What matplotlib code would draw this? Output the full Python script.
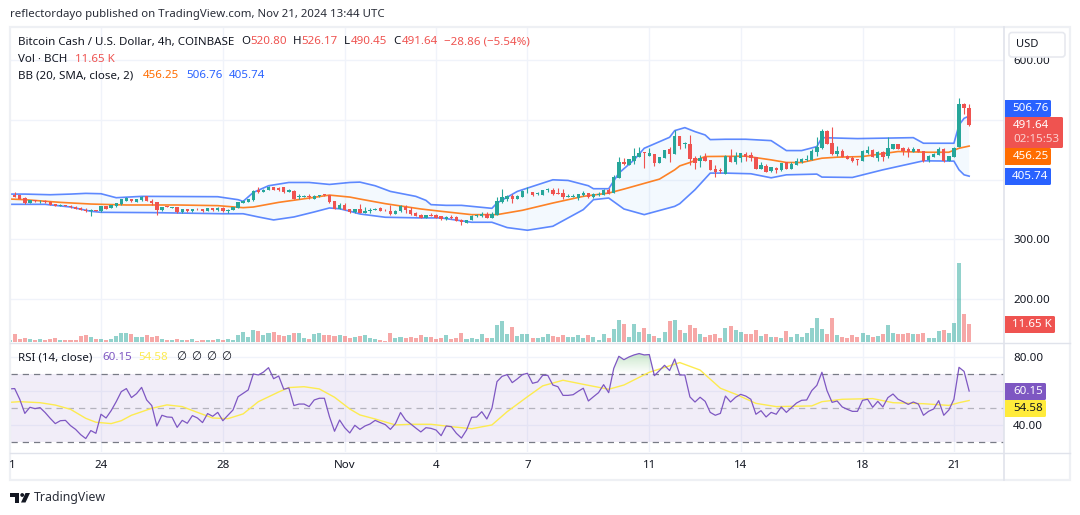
import numpy as np
import matplotlib
matplotlib.use('Agg')
import matplotlib.pyplot as plt
from matplotlib.patches import FancyBboxPatch, Rectangle, Circle, Polygon
from matplotlib.path import Path

# BCH/USD 4h candles
opens = [368, 374.1, 374, 369.7, 360.2, 365.7, 363.5, 364.6, 363, 358.5,
         355.7, 357.4, 356.3, 354.6, 352.9, 349.6, 346.8, 349, 346.8, 355.2,
         352.4, 355.2, 358.5, 364.1, 367.4, 362.4, 365.2, 371.9, 364.1, 362.4,
         348.5, 355.2, 352.5, 353.5, 345.1, 350.2, 346.8, 351.3, 350.2, 347.4,
         352.4, 348.5, 352.9, 346.8, 349.6, 352.4, 360.7, 362.4, 365.2, 381.9,
         379.1, 382.5, 388, 386.4, 386.9, 379.1, 381.3, 370.8, 370.8, 372.4,
         368, 371.9, 375.2, 374, 363.5, 350.7, 358, 350.7, 345.1, 350.7,
         344.6, 346.8, 349.6, 352.9, 349.6, 347.9, 342.9, 346.8, 354.6, 349.6,
         344.6, 341.2, 335.6, 340.7, 341.2, 338.4, 333.4, 336.8, 337.9, 332.9,
         327.3, 331.8, 338.4, 338.4, 342.9, 336.2, 340.7, 361.8, 368, 373,
         368, 371.3, 378.5, 379.1, 375.2, 374, 381.9, 382.4, 377.4, 378,
         371.3, 370.8, 368.5, 374.6, 377.4, 370.2, 373.5, 374.6, 383, 378,
         403, 429.8, 425.3, 432, 438.1, 445.4, 440.4, 442.6, 428.1, 437,
         451, 443.7, 473.2, 459.3, 459.8, 435.9, 430.9, 438.7, 433.1, 418.1,
         415.9, 409.7, 440.4, 428.7, 435.9, 443.2, 440.9, 438.1, 418.1, 423.1,
         413.6, 420.3, 415.9, 429.2, 418.6, 425.3, 429.8, 433.7, 433.1, 447,
         453.7, 481.6, 461.5, 443.2, 448.7, 440.4, 436.5, 434.2, 432, 444.3,
         450.4, 437, 446.5, 439.8, 451, 459.8, 453.7, 451, 446.5, 451,
         448.2, 432.6, 438.1, 441, 452, 432, 438.7, 454.3, 527.3, 520.8]
highs = [372.5, 378.6, 374.5, 370.2, 366.2, 366, 365.7, 365, 363.4, 359,
         358.4, 357.8, 356.6, 355, 353.2, 352.4, 350, 349.4, 355.6, 355.6,
         357.2, 361, 367.8, 370, 367.8, 367.2, 371.8, 373, 367.4, 363,
         354.4, 355.6, 354, 354, 350.6, 350.6, 351, 351.8, 350.6, 352.8,
         352.8, 353.2, 353.2, 350, 354.4, 362.2, 365, 367.8, 382, 388,
         383.4, 389, 388.4, 386.8, 387.2, 383.4, 382, 376.3, 374, 375.2,
         373.4, 375, 376.5, 374.4, 364, 360, 360, 351, 351, 359.6,
         354, 352.4, 351.8, 353.2, 350, 356.8, 348.2, 358, 357.4, 354,
         345, 341.6, 341, 343.5, 341.6, 338.8, 338.2, 340, 338.2, 333.2,
         332.6, 339.8, 341.6, 346.2, 346.2, 346.2, 370.8, 384.7, 374.6, 375.2,
         373.4, 383, 387.5, 379.5, 379.1, 382.8, 386.4, 385.8, 385.2, 384.7,
         376.3, 375.2, 376.2, 381.3, 377.8, 377.4, 379.6, 383.4, 385.8, 408,
         438.7, 436.5, 435.2, 453.2, 455.4, 447, 452.6, 443, 438.5, 449.7,
         454.3, 483.3, 473.6, 463.8, 475.5, 440.4, 441.5, 444.3, 433.5, 424.2,
         419.2, 440.8, 451, 447, 444.7, 447, 447, 438.5, 429.2, 426.5,
         421.8, 420.7, 428, 429.6, 430.3, 437, 436.5, 442, 451, 471.6,
         485.5, 483.3, 488.3, 456.5, 452, 440.8, 439.8, 434.6, 449, 456.5,
         451, 447.4, 448, 471.6, 459.7, 460.2, 455.4, 455.4, 455.4, 452,
         448.6, 440.8, 444, 454.3, 452.4, 440.2, 455.4, 536.2, 528, 526.17]
lows = [367.4, 370, 367.6, 359.8, 360, 363, 361, 361.4, 357, 355.3,
        355.3, 355.3, 353.1, 350.9, 349.2, 345.7, 338.4, 347, 346.4, 350.9,
        352, 354.8, 358.1, 363.7, 363.1, 362, 364.8, 363.7, 357.4, 340.1,
        348.1, 353.6, 352.1, 344.7, 344.7, 346.4, 346.4, 349.8, 346.4, 347,
        348.1, 348.1, 346.4, 344, 349.2, 352, 360.3, 362, 364.8, 377.4,
        378.7, 382.1, 382.1, 381.5, 378.1, 378.7, 367.6, 367.4, 370.4, 368,
        367.6, 371.5, 373.1, 361.4, 350.3, 350.3, 349.2, 344.7, 344.7, 344.2,
        344.2, 344.6, 349.2, 347.5, 348.1, 341, 342.5, 346.4, 344, 340.7,
        339.1, 335.2, 335.2, 339.1, 335.8, 333, 333, 334.7, 330.8, 323.4,
        326.9, 331.4, 338, 338, 335.8, 335.8, 340.3, 361.4, 364.6, 361.3,
        367.6, 370.9, 378.1, 371.8, 374.8, 373.6, 379.6, 374.6, 375.9, 368,
        370.9, 370.4, 365.2, 371.8, 369.8, 369.8, 373.1, 374.2, 375.4, 377.6,
        402.6, 424.2, 424.9, 426.5, 437.7, 420.3, 440, 423, 427.7, 436.6,
        428.7, 443.3, 452, 453.7, 423.7, 418, 421.4, 431.6, 416, 404.7,
        410.9, 409.3, 429.4, 426.5, 428.7, 432, 432, 417.7, 417.7, 412.7,
        413.2, 410.3, 413.6, 417.1, 418.2, 424.9, 428.1, 430.9, 432.7, 440.4,
        451.5, 460, 441, 440.4, 437.2, 434.4, 428.7, 425.3, 431.6, 443.2,
        437.2, 432, 431.4, 436.5, 450.6, 450.6, 441.5, 438.7, 446.1, 446.1,
        429.8, 430.3, 437.7, 440.6, 429.8, 431.6, 438.3, 454, 510, 490.45]
closes = [371.5, 370.8, 368, 360.2, 365.7, 363.5, 364.6, 361.8, 357.4, 355.7,
          358, 355.7, 353.5, 351.3, 349.6, 346.8, 349.6, 347.4, 355.2, 351.3,
          356.8, 360.7, 367.4, 369.7, 363.5, 366.8, 371.4, 364.1, 360.7, 348.5,
          354, 354, 353.5, 345.1, 350.2, 346.8, 350.7, 350.2, 346.8, 352.4,
          348.5, 352.9, 346.8, 349.6, 354, 361.8, 364.6, 367.4, 380.2, 379.1,
          383, 388, 382.5, 381.9, 378.5, 383, 368, 371.9, 371.9, 370.8,
          373, 374.1, 373.5, 361.8, 350.7, 358, 349.6, 345.1, 350.7, 344.6,
          347.9, 349.6, 351.3, 347.9, 348.5, 341.8, 347.9, 355.1, 348.5, 342.3,
          339.5, 335.6, 340.7, 339.5, 336.2, 333.4, 337.9, 335.1, 331.2, 328.4,
          332.3, 339.5, 341.2, 341.8, 336.2, 342.3, 364, 370.8, 372.4, 368,
          373, 380.2, 379.6, 373.5, 376.9, 382.4, 383.5, 376.3, 376.3, 370.8,
          373, 371.9, 375.8, 377.4, 370.2, 375.2, 376.3, 383, 375.8, 404.2,
          429.8, 425.9, 434.8, 439.8, 444.3, 444.3, 444.3, 428.1, 438.1, 449.3,
          443.7, 473.2, 456.5, 461, 434.8, 427.5, 435.9, 432, 416.4, 412.5,
          413.6, 440.4, 429.8, 440.4, 444.3, 438.7, 436.5, 418.1, 424.8, 413.1,
          421.4, 415.3, 427.5, 417.5, 427, 431.4, 434.8, 434.8, 448.7, 454.8,
          481.6, 460.4, 443.2, 448.2, 437.6, 434.8, 431.4, 433.1, 448.7, 450.4,
          437.6, 447, 438.1, 452.6, 459.3, 451, 448.7, 447, 452, 446.5,
          432, 440.4, 443.7, 451, 431.4, 439.8, 453.2, 526.7, 520.8, 491.64]

# volume in thousands of BCH
volumes = [1.3, 5.2, 1.9, 2.4, 1.7, 1.3, 1.9, 1.5, 2.2, 2.6,
           1.3, 1.3, 1.3, 1.3, 3.9, 4.5, 3, 1.9, 1.9, 1.5,
           2.2, 3.9, 5.8, 5.8, 5.2, 3, 3.2, 4.3, 3.4, 3.9,
           1.9, 1.3, 1.3, 1.9, 1.3, 1.3, 1.9, 0.6, 1.3, 1.3,
           1.3, 1.9, 1.3, 1.9, 1.3, 4.7, 6.5, 3, 7.8, 7.1,
           4.7, 5.8, 6.5, 4.5, 4.1, 4.7, 5.8, 5.8, 2.6, 1.9,
           5.2, 5.8, 4.5, 4.5, 4.1, 4.5, 3.9, 2.8, 3.4, 3.9,
           4.5, 2.6, 1.9, 1.3, 0.6, 5.8, 2.6, 3.2, 2.6, 3.2,
           2.8, 4.5, 3.2, 3.2, 1.9, 2.6, 4.5, 1.9, 2.6, 5.8,
           1.9, 2.6, 1.9, 5.2, 2.6, 2.6, 11, 13.6, 5.2, 9.7,
           3.9, 5.2, 5.2, 2.6, 2.6, 3.2, 5.2, 3.9, 3.2, 4.5,
           3.2, 3.2, 4.5, 2.6, 4.5, 3.2, 1.3, 5.2, 2.6, 8.4,
           14.2, 11.65, 3.2, 11.65, 6.5, 9.1, 5.2, 3.9, 2.6, 6.5,
           13.6, 14.2, 7.8, 5.8, 11, 9.1, 5.2, 3.2, 4.5, 5.2,
           2.6, 9.1, 10.3, 7.8, 6.5, 5.2, 5.2, 7.8, 3.9, 5.2,
           3.2, 3.2, 2.6, 7.1, 3.2, 5.2, 3.2, 5.8, 9.1, 15.5,
           8.4, 5.2, 15.5, 4.5, 3.2, 2.6, 4.5, 3.2, 5.8, 4.5,
           3.2, 3.9, 5.2, 11, 5.8, 5.2, 5.2, 5.8, 5.2, 5.2,
           5.8, 2.6, 2.6, 7.1, 7.8, 5.8, 12.3, 50.9, 18.1, 11.65]

# Bollinger bands, (bar number, price) at the turning points of each line
bb_upper_idx = [0, 3, 8, 12, 15, 18, 21, 26, 41, 45, 46, 48, 51, 55, 59, 63, 67, 69,
                72, 75, 80, 82, 83, 86, 89, 95, 96, 100, 103, 107, 110, 114, 115, 118,
                120, 123, 125, 130, 131, 133, 135, 137, 138, 141, 145, 150, 153, 156,
                159, 160, 167, 178, 180, 186, 187, 188, 189]
bb_upper = [375.7, 375.7, 374.6, 375.7, 376.9, 376.3, 369.6, 371.9, 371.3, 366.3, 363.5, 378.5,
            389.7, 395.2, 395.2, 391.9, 395.2, 395.8, 389.7, 380.2, 371.9, 365.2, 358, 356.8,
            356.8, 351.8, 360.7, 380.2, 388.6, 399.7, 398.6, 389.7, 384.7, 384.7, 410.9, 433.1,
            452.6, 471, 482.2, 487.2, 480.5, 474.9, 467.1, 467.7, 467.7, 465.4, 448.7, 448.7,
            455.4, 470.4, 468.8, 470.4, 461, 461, 491.6, 502.8, 506.76]
bb_mid_idx = [0, 3, 10, 16, 23, 33, 41, 46, 48, 53, 59, 63, 67, 69, 74, 81, 85, 91, 96,
              101, 107, 113, 118, 121, 128, 131, 132, 134, 137, 145, 150, 153, 156, 160,
              163, 168, 175, 181, 185, 187, 189]
bb_mid = [367.4, 366.3, 361.8, 359, 357.4, 357.4, 356.3, 352.9, 354, 361.8, 369, 374,
          370.7, 367.4, 359.6, 350.7, 346.8, 341.2, 341.2, 348.5, 360.7, 371.9, 377.4, 384.1,
          400.8, 416.4, 423, 428.7, 438.7, 439.3, 433.1, 428.7, 428.7, 435.9, 437.6, 438.7,
          447.1, 445.9, 445.9, 452.6, 456.25]
bb_lower_idx = [0, 7, 12, 16, 18, 28, 42, 46, 49, 52, 56, 60, 63, 65, 67, 69, 74, 81,
                85, 91, 95, 98, 102, 107, 113, 115, 118, 121, 125, 131, 132, 135, 138, 141,
                146, 150, 153, 159, 160, 166, 172, 180, 186, 187, 188, 189]
bb_lower = [358.5, 358.5, 354, 346.8, 345.1, 344.6, 342.7, 342.7, 337.3, 332.3, 337.3, 345.7,
            352.4, 351, 347, 342.3, 336.8, 335.7, 335.7, 328.4, 328.4, 319.5, 315, 321.7,
            349.6, 366.3, 369.1, 350.7, 341.2, 355.1, 359.6, 383, 410.9, 410.9, 409.8, 403,
            408, 409.2, 404.2, 403.6, 416.4, 431.5, 431, 416.4, 408, 405.74]

# RSI(14) for every bar, and its moving average at the turning points
rsi = [61.4, 61.6, 55.3, 47.0, 50.6, 49.8, 50.4, 47.5, 44.1, 41.0,
       42.7, 42.9, 39.8, 37.6, 34.5, 32.2, 36.9, 35.3, 46.5, 44.3,
       48.6, 53.9, 59.8, 61.6, 56.3, 58.6, 62.3, 54.9, 51.6, 39.6,
       45.9, 44.9, 44.7, 38.8, 42.9, 41.2, 45.7, 44.3, 41.6, 46.9,
       45.3, 47.6, 42.7, 45.9, 49.0, 56.8, 58.8, 60.8, 70.2, 69.6,
       71.3, 73.9, 67.4, 69.0, 61.2, 62.0, 51.6, 52.5, 52.5, 51.0,
       54.9, 55.9, 55.9, 45.1, 36.5, 43.1, 38.6, 35.5, 40.0, 37.6,
       39.6, 40.8, 42.9, 41.6, 40.4, 37.6, 41.0, 47.5, 43.1, 40.8,
       38.4, 36.1, 38.6, 38.2, 37.2, 33.9, 39.6, 39.2, 35.3, 32.5,
       37.2, 44.7, 44.9, 48.0, 43.7, 50.0, 65.7, 68.8, 69.8, 65.1,
       67.3, 69.8, 70.6, 64.7, 65.5, 69.4, 69.4, 63.7, 62.7, 57.6,
       57.6, 58.0, 60.0, 61.8, 54.3, 56.8, 59.2, 63.9, 59.2, 73.5,
       80.6, 78.6, 80.2, 81.4, 82.2, 81.4, 81.6, 69.2, 72.2, 75.3,
       72.2, 79.0, 69.6, 69.6, 56.7, 53.7, 56.5, 54.1, 47.6, 45.9,
       47.0, 57.2, 53.7, 56.5, 58.2, 57.2, 55.3, 46.5, 48.6, 44.9,
       47.6, 46.5, 50.8, 47.6, 50.4, 53.1, 54.7, 54.9, 60.4, 63.5,
       71.2, 60.4, 53.5, 54.3, 50.8, 49.4, 48.2, 48.2, 54.7, 55.3,
       50.6, 54.1, 50.8, 56.3, 58.4, 55.3, 53.9, 52.3, 53.7, 52.5,
       45.9, 48.2, 49.6, 54.5, 45.9, 49.0, 55.3, 74.1, 71.7, 60.15]
rsi_ma_idx = [0, 2, 6, 9, 12, 15, 17, 20, 22, 24, 28, 31, 34, 37, 40, 43, 46, 49, 53, 55, 58,
              61, 64, 67, 69, 72, 76, 79, 83, 87, 91, 95, 98, 102, 105, 109, 113, 118, 121,
              126, 132, 136, 140, 143, 147, 151, 158, 160, 164, 170, 174, 180, 185, 187, 189]
rsi_ma = [53.5, 53.9, 53.3, 51.9, 49.4, 44.1, 41.8, 41.0, 42.7, 45.9, 50.0, 52.0, 51.0, 47.6,
          44.3, 43.9, 46.7, 53.9, 59.6, 62.2, 62.7, 61.4, 56.5, 49.6, 46.1, 43.7, 40.2, 40.6,
          40.6, 39.2, 38.0, 40.2, 48.0, 56.8, 63.2, 66.5, 64.1, 61.2, 63.7, 71.2, 76.9, 72.5,
          61.8, 58.3, 52.9, 51.0, 51.4, 53.9, 55.3, 55.7, 53.3, 52.7, 51.7, 53.3, 54.58]

date_idx = [18, 42, 66, 84, 102, 126, 144, 168, 186]
date_labels = ['24', '28', 'Nov', '4', '7', '11', '14', '18', '21']
price_ticks = [200, 300, 400, 500, 600]
price_labels = ['200.00', '300.00', '', '', '600.00']   # 400 and 500 sit behind the price tags
vol_last = 11.65

W, H = 1080, 515
UP, DOWN = '#26a69a', '#ef5350'
GRID = '#f0f3fa'
BORDER = '#e0e3eb'
TXT = '#131722'
BAR_X0, BAR_DX = 9.6, 5.077       # pixel of bar 0, pixels per bar
PANE_L, PANE_R = 10.5, 1004.0
PRICE_T, PRICE_B = 28.0, 342.0
RSI_T, RSI_B = 343.0, 452.0
PX_PER_USD = 0.596
PX_PER_RSI = 1.7
PX_PER_VOL = 1.547

plt.rcParams['font.family'] = ['Noto Sans', 'DejaVu Sans']
FS = 8.3


def rect(l, t, r, b):
    return [l / W, 1 - b / H, (r - l) / W, (b - t) / H]


fig = plt.figure(figsize=(W / 100, H / 100), dpi=100, facecolor='white')
xlim = ((PANE_L - BAR_X0) / BAR_DX, (PANE_R - BAR_X0) / BAR_DX)
bars = np.arange(len(closes))
o, h, l, c = map(np.array, (opens, highs, lows, closes))
up = c >= o
colors = np.where(up, UP, DOWN)

#Price pane
ax = fig.add_axes(rect(PANE_L, PRICE_T, PANE_R, PRICE_B))
ax.set_xlim(xlim)
ax.set_ylim(500 - (PRICE_B - 120) / PX_PER_USD, 500 + (120 - PRICE_T) / PX_PER_USD)
ax.set_xticks(date_idx)
ax.set_yticks(price_ticks)
ax.set_yticklabels(price_labels, color=TXT, fontsize=FS)
ax.grid(True, color=GRID, lw=1)
ax.set_axisbelow(True)
for s in ax.spines.values():
    s.set_visible(False)
ax.patch.set_alpha(0)

ax.fill(list(bb_upper_idx) + bb_lower_idx[::-1], list(bb_upper) + bb_lower[::-1],
        color='#2196f3', alpha=0.05, lw=0, zorder=1)
ax.plot(bb_upper_idx, bb_upper, color='#2962ff', lw=1.2, alpha=0.75, zorder=2)
ax.plot(bb_lower_idx, bb_lower, color='#2962ff', lw=1.2, alpha=0.75, zorder=2)
ax.plot(bb_mid_idx, bb_mid, color='#ff6d00', lw=1.2, alpha=0.85, zorder=2)

ax.vlines(bars, l, h, colors=colors, lw=0.8, zorder=3)
body = np.maximum(np.abs(c - o), 1.2)
ax.bar(bars, body, bottom=np.minimum(o, c), width=0.66, color=colors, lw=0, zorder=4)

#Volume shares the price pane with its own scale
ax_vol = ax.twinx()
ax_vol.set_xlim(xlim)
ax_vol.set_ylim(0, (PRICE_B - PRICE_T) / PX_PER_VOL)
ax_vol.bar(bars, volumes, width=0.8, color=colors, alpha=0.5, lw=0)
ax_vol.axis('off')

# twinx sends the price labels left, so set the side afterwards
ax.yaxis.tick_right()
ax.tick_params(axis='both', length=0, pad=6.5, labelbottom=False)

#RSI pane
ax_rsi = fig.add_axes(rect(PANE_L, RSI_T, PANE_R, RSI_B))
ax_rsi.set_xlim(xlim)
y80 = 357.3
rsi_ylim = (80 - (RSI_B - y80) / PX_PER_RSI, 80 + (y80 - RSI_T) / PX_PER_RSI)
ax_rsi.set_ylim(rsi_ylim)
ax_rsi.set_xticks(date_idx)
ax_rsi.set_xticklabels(date_labels, color=TXT, fontsize=FS)
ax_rsi.get_xticklabels()[2].set_fontweight('bold')
ax_rsi.set_yticks([40, 60, 80])
ax_rsi.set_yticklabels(['40.00', '', '80.00'], color=TXT, fontsize=FS)
ax_rsi.yaxis.tick_right()
ax_rsi.tick_params(axis='both', length=0)
ax_rsi.tick_params(axis='y', pad=6.5)
ax_rsi.tick_params(axis='x', pad=6)
ax_rsi.grid(True, color=GRID, lw=1)
ax_rsi.set_axisbelow(True)
for s in ax_rsi.spines.values():
    s.set_visible(False)
ax_rsi.patch.set_alpha(0)

ax_rsi.axhspan(30, 70, color='#7e57c2', alpha=0.1, lw=0)
ax_rsi.axhline(70, color='#787b86', lw=0.9, dashes=(5, 4))
ax_rsi.axhline(50, color='#787b86', lw=0.9, dashes=(5, 4), alpha=0.5)
ax_rsi.axhline(30, color='#787b86', lw=0.9, dashes=(5, 4))

# overbought shading fades out towards the 70 line
over = ax_rsi.fill_between(bars, rsi, 70, where=np.array(rsi) > 70, interpolate=True,
                           facecolor='none', lw=0)
shade = np.zeros((200, 2, 4))
shade[..., :3] = matplotlib.colors.to_rgb('#4caf50')
shade[..., 3] = np.linspace(0.75, 0, 200)[:, None]
im = ax_rsi.imshow(shade, extent=(xlim[0], xlim[1], 70, 100), aspect='auto', zorder=1.5)
im.set_clip_path(Path.make_compound_path(*over.get_paths()), transform=ax_rsi.transData)
ax_rsi.set_xlim(xlim)
ax_rsi.set_ylim(rsi_ylim)

ax_rsi.plot(rsi_ma_idx, rsi_ma, color='#fdeb4f', lw=1.0, zorder=3)
ax_rsi.plot(bars, rsi, color='#7e57c2', lw=0.9, zorder=4)

#Frame, tags and legends are laid out in pixels on a top layer
top = fig.add_axes([0, 0, 1, 1], zorder=10)
top.set_xlim(0, W)
top.set_ylim(H, 0)
top.axis('off')
top.patch.set_alpha(0)

top.add_patch(Rectangle((10, 27), 1060, 453, fill=False, ec='#eef0f4', lw=1.6))
top.plot([1004, 1004], [27, 480], color=BORDER, lw=1.2)
top.plot([10, 1070], [342.5, 342.5], color=BORDER, lw=1.0)
top.plot([10, 1070], [452.5, 452.5], color=BORDER, lw=1.0)


def txt(x, y, s, color=TXT, **kw):
    kw.setdefault('fontsize', FS)
    return top.text(x, y, s, color=color, va='center', ha=kw.pop('ha', 'left'), **kw)


def tag(y0, y1, x1, face):
    top.add_patch(FancyBboxPatch((1005, y0), x1 - 1007, y1 - y0, lw=0, fc=face,
                                 boxstyle='round,pad=0,rounding_size=1.5'))
    top.add_patch(Rectangle((1005, y0), 4, y1 - y0, lw=0, fc=face))


# USD button sits over the 600 label
top.add_patch(FancyBboxPatch((1009, 32.5), 56, 24.5, fc='white', ec='#e7e9ef', lw=1.2,
                             boxstyle='round,pad=0,rounding_size=3'))
txt(1027, 44.5, 'USD', ha='center', fontsize=8)

tag(100, 117, 1053, '#2962ff')
txt(1030.5, 108.5, '%.2f' % bb_upper[-1], 'white', ha='center')
tag(117, 148, 1065, DOWN)
txt(1030.5, 125.5, '%.2f' % closes[-1], 'white', ha='center')
txt(1036, 140, '02:15:53', '#fbd0cf', ha='center')
tag(148, 165, 1053, '#ff6d00')
txt(1030.5, 156.5, '%.2f' % bb_mid[-1], 'white', ha='center')
tag(168, 185, 1053, '#2962ff')
txt(1030.5, 176.5, '%.2f' % bb_lower[-1], 'white', ha='center')
tag(316, 333, 1057, DOWN)
txt(1032, 324.5, '%.2f K' % vol_last, 'white', ha='center')
tag(383, 400, 1048, '#7e57c2')
txt(1028, 391.5, '%.2f' % rsi[-1], 'white', ha='center')
tag(400, 417, 1048, '#ffeb3b')
txt(1028, 408.5, '%.2f' % rsi_ma[-1], '#131722', ha='center')

txt(10, 15, 'reflectordayo published on TradingView.com, Nov 21, 2024 13:44 UTC', '#2a2e39',
    fontsize=8.22)

txt(18, 42, 'Bitcoin Cash / U.S. Dollar, 4h, COINBASE')
for x, s, col in [(241.5, 'O', TXT), (250, '520.80', DOWN), (293, 'H', TXT), (301.5, '526.17', DOWN),
                  (344, 'L', TXT), (350.5, '490.45', DOWN), (393.5, 'C', TXT), (401.5, '491.64', DOWN),
                  (444, '\u221228.86 (\u22125.54%)', DOWN)]:
    txt(x, 42, s, col)
txt(18, 59, 'Vol \u00b7 BCH')
txt(75, 59, '%.2f K' % vol_last, DOWN)
txt(18, 76, 'BB (20, SMA, close, 2)')
txt(143, 76, '%.2f' % bb_mid[-1], '#ff6d00')
txt(186, 76, '%.2f' % bb_upper[-1], '#2962ff')
txt(229, 76, '%.2f' % bb_lower[-1], '#2962ff')

txt(18, 358, 'RSI (14, close)')
txt(102, 358, '%.2f' % rsi[-1], '#7e57c2')
txt(138, 358, '%.2f' % rsi_ma[-1], '#fdeb4f')
for x in [176, 191, 206, 221]:
    txt(x, 358, '\u2205')

# the first date label is cut down to its last digit by the pane edge
txt(12, 466, '1', ha='center')

# brand mark and name in the footer
LOGO = '#131722'
top.add_patch(Rectangle((10, 493), 9, 3.5, fc=LOGO, lw=0))
top.add_patch(Rectangle((14.5, 493), 4.5, 9.5, fc=LOGO, lw=0))
top.add_patch(Circle((22.2, 495), 1.9, fc=LOGO, lw=0))
top.add_patch(Polygon([(25.5, 493), (30, 493), (25.5, 502.5), (21, 502.5)], fc=LOGO, lw=0))
txt(33.5, 497.5, 'TradingView', '#2a2e39', fontsize=8.9)

fig.savefig('out.png', dpi=100)
plt.close(fig)
